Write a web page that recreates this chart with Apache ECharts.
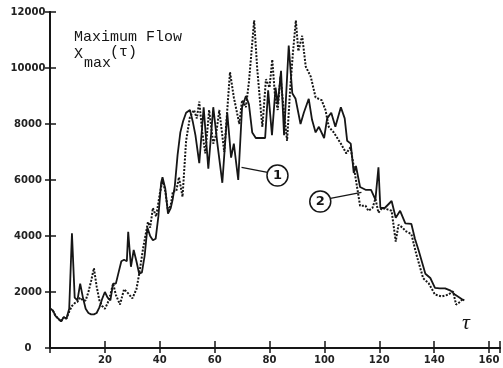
<!DOCTYPE html>
<html>
<head>
<meta charset="utf-8">
<title>Maximum Flow</title>
<script src="https://cdn.jsdelivr.net/npm/echarts@6/dist/echarts.min.js"></script>
<style>
    html, body { margin: 0; padding: 0; background: #fff; }
    #chart { width: 503px; height: 368px; }
</style>
</head>
<body>
<div id="chart"></div>
<script>
// 轴刻度
var xTicks = [0, 20, 40, 60, 80, 100, 120, 140, 160];
var yTicks = [0, 2000, 4000, 6000, 8000, 10000, 12000];

// 曲线 1 (实线)
var solidT = [0, 1, 2, 3, 4, 5, 6, 7, 8, 9, 10, 11, 12, 13, 14, 15, 16, 17, 18, 19, 20, 21, 22, 23, 24, 25, 26, 27, 28,
    28.5, 29.5, 30.5, 31.5, 32.5, 33.5, 34.5, 35.5, 36.5, 37.5, 38.5, 39.5, 40.5, 41, 42, 43, 44, 44.7, 45.5, 46.5,
    47.5, 48.5, 49.6, 51, 52, 53, 54.4, 56, 57.7, 59.5, 61, 62.8, 64.6, 66, 67, 68.6, 70, 71.4, 72.5, 73.7, 75, 76.5,
    78.4, 79.5, 80.9, 82.2, 83, 84.2, 85.3, 87, 88.3, 89.5, 91.3, 92.5, 94.3, 95.5, 96.8, 98, 99.9, 101, 102.5, 104,
    106, 107.4, 108.3, 109.6, 110.7, 111.5, 113, 115, 117, 118.6, 119.7, 120.4, 122, 124.5, 126, 127.6, 129.5, 131.7,
    133, 134.3, 136.8, 138.6, 140.3, 142, 144, 146, 147.7, 150, 151];
var solidV = [1400, 1350, 1150, 1050, 950, 1100, 1050, 1400, 4100, 1800, 1700, 2300, 1800, 1400, 1250, 1200, 1200, 1250,
    1450, 1750, 2000, 1800, 1700, 2300, 2300, 2700, 3100, 3150, 3100,
    4150, 2900, 3500, 3100, 2650, 2700, 3300, 4300, 4000, 3850, 3900, 4700, 5900, 6100, 5700, 4800, 5000, 5300, 5800, 6900,
    7700, 8100, 8400, 8500, 8100, 7600, 6600, 8600, 6400, 8600, 7300, 5900, 8400, 6800, 7300, 6000, 8600, 9000, 8700, 7700, 7500, 7500,
    7500, 9200, 7600, 9300, 8700, 9900, 7600, 10800, 9100, 8900, 8000, 8400, 8900, 8150, 7700, 7900, 7500, 8200, 8400, 7900,
    8600, 8200, 7400, 7300, 6250, 6500, 5750, 5650, 5650, 5300, 6450, 5000, 5000, 5250, 4650, 4900, 4450, 4430,
    3900, 3500, 2650, 2500, 2150, 2130, 2130, 2050, 1900, 1750, 1700];

// 曲线 2 (虚线)
var dotT = [0, 1, 2, 3, 4, 5, 6, 7, 8, 9, 10, 11, 12, 13, 14, 15, 16, 17, 18, 19, 20, 21, 22, 23, 24, 25.5, 27, 28.5, 30,
    31.5, 32.6, 34, 35.7, 36.5, 37.5, 38.7, 40, 41, 42, 43, 44, 44.8, 46, 47, 48.3, 49.6, 51, 52.5, 53.5, 54.4, 55.5,
    56.6, 58, 59.5, 60.5, 61.7, 63.5, 65.6, 67, 69, 70, 71.4, 72.5, 74.4, 75.5, 76.9, 77.4, 78.7, 80, 81, 82, 83, 84,
    85.5, 86.4, 87.5, 88.5, 89.6, 90.5, 91.9, 93.2, 95, 96.8, 99, 100.4, 101.6, 103.4, 106, 108, 109.5, 110.5, 111.5,
    113, 115, 116, 117.5, 118.6, 119.7, 121, 123, 124.5, 126, 127, 128.5, 129.5, 131.7, 133.5, 136, 138, 140.3, 142.7,
    145, 146.9, 148, 149.5, 150.6];
var dotV = [1400, 1350, 1150, 1050, 950, 1100, 1050, 1300, 1500, 1600, 1650, 1800, 1700, 1700, 2000, 2400, 2850, 2200, 1700,
    1500, 1400, 1600, 1900, 2300, 1900, 1550, 2100, 1950, 1770,
    2100, 2700, 3600, 4500, 4300, 5000, 4700, 5500, 6000, 5600, 4900, 5100, 5600, 5600, 6100, 5400, 7400, 8250, 8500, 8200, 8800, 7700,
    6950, 8500, 7300, 7600, 8500, 7000, 9850, 8950, 8000, 8850, 8600, 9500, 11700, 10000, 8400, 7900, 9600, 9300, 10300, 9000, 8500, 9700,
    8200, 7400, 9200, 10500, 11700, 10600, 11150, 10050, 9700, 8950, 8850, 8500, 7900, 7700, 7300, 6950, 7170, 6600, 6000,
    5080, 5080, 4900, 5000, 5330, 4830, 5000, 4950, 4900, 3800, 4400, 4300, 4180, 4070, 3350, 2490, 2310, 1910, 1840,
    1900, 2020, 1550, 1650, 1770];

// 标注 (圆圈编号及引线)
var tag1 = [82.9, 6160];
var tag1Line = [[69.8, 6450], [79.3, 6270]];
var tag2 = [98.5, 5230];
var tag2Line = [[102.2, 5340], [113.5, 5560]];

var ink = '#161616';

function zip(ts, vs) {
    var out = [];
    ts.forEach(function (t, i) {
        out.push([t, vs[i]]);
    });
    return out;
}

function tagPoint(coord, text) {
    return {
        coord: coord,
        symbol: 'circle',
        symbolSize: 21,
        itemStyle: { color: '#fff', borderColor: ink, borderWidth: 1.5 },
        label: {
            show: true,
            formatter: text,
            color: ink,
            fontSize: 13,
            fontFamily: 'DejaVu Sans',
            fontWeight: 'bold'
        }
    };
}

var axisLine = { show: true, lineStyle: { color: ink, width: 2 } };

var chart = echarts.init(document.getElementById('chart'));
var option = {
    animation: false,
    backgroundColor: '#fff',
    grid: { left: 50, right: 2, top: 12, bottom: 20 },
    xAxis: [{
        type: 'value',
        min: 0,
        max: 164,
        interval: 20,
        position: 'bottom',
        axisLine: axisLine,
        axisTick: { show: true, inside: true, length: 7, lineStyle: { color: ink, width: 1.5 } },
        splitLine: { show: false },
        axisLabel: {
            margin: 7,
            color: '#222',
            fontSize: 10,
            fontFamily: 'DejaVu Sans',
            fontWeight: 'bold',
            formatter: function (v) {
                return (v > 0 && xTicks.indexOf(v) >= 0) ? String(v) : '';
            }
        }
    }, {
        type: 'value',
        min: 0,
        max: 164,
        interval: 20,
        position: 'top',
        axisLine: axisLine,
        axisTick: { show: true, inside: true, length: 5, lineStyle: { color: ink, width: 1.5 } },
        splitLine: { show: false },
        axisLabel: { show: false }
    }],
    yAxis: [{
        type: 'value',
        min: 0,
        max: 12000,
        interval: 2000,
        axisLine: axisLine,
        axisTick: { show: true, inside: true, length: 6, lineStyle: { color: ink, width: 1.5 } },
        splitLine: { show: false },
        axisLabel: {
            align: 'center',
            margin: 22,
            color: '#222',
            fontSize: 10,
            fontFamily: 'DejaVu Sans',
            fontWeight: 'bold',
            formatter: function (v) {
                return yTicks.indexOf(v) >= 0 ? String(v) : '';
            }
        }
    }, {
        type: 'value',
        min: 0,
        max: 12000,
        interval: 2000,
        position: 'right',
        axisLine: axisLine,
        axisTick: { show: true, inside: true, length: 5, lineStyle: { color: ink, width: 1.5 } },
        splitLine: { show: false },
        axisLabel: { show: false }
    }],
    graphic: [{
        type: 'text',
        left: 74,
        top: 30,
        style: { text: 'Maximum Flow', fill: ink, font: '15px "Liberation Mono"' }
    }, {
        type: 'text',
        left: 74,
        top: 47,
        style: { text: 'X', fill: ink, font: '15px "Liberation Mono"' }
    }, {
        type: 'text',
        left: 84,
        top: 56,
        style: { text: 'max', fill: ink, font: '15px "Liberation Mono"' }
    }, {
        type: 'text',
        left: 110,
        top: 45,
        style: { text: '(τ)', fill: ink, font: '15px "Liberation Mono"' }
    }, {
        type: 'text',
        left: 462,
        top: 312,
        style: { text: 'τ', fill: ink, font: 'italic 22px "Liberation Serif"' }
    }],
    series: [{
        name: '2',
        type: 'line',
        data: zip(dotT, dotV),
        showSymbol: false,
        silent: true,
        lineStyle: { color: ink, width: 2, type: [2, 1.5] },
        markLine: {
            silent: true,
            symbol: 'none',
            label: { show: false },
            lineStyle: { color: ink, width: 1.3, type: 'solid' },
            data: [[{ coord: tag2Line[0] }, { coord: tag2Line[1] }]]
        },
        markPoint: { silent: true, data: [tagPoint(tag2, '2')] }
    }, {
        name: '1',
        type: 'line',
        data: zip(solidT, solidV),
        showSymbol: false,
        silent: true,
        lineStyle: { color: ink, width: 1.8 },
        markLine: {
            silent: true,
            symbol: 'none',
            label: { show: false },
            lineStyle: { color: ink, width: 1.3, type: 'solid' },
            data: [[{ coord: tag1Line[0] }, { coord: tag1Line[1] }]]
        },
        markPoint: { silent: true, data: [tagPoint(tag1, '1')] }
    }]
};

chart.setOption(option);
</script>
</body>
</html>
